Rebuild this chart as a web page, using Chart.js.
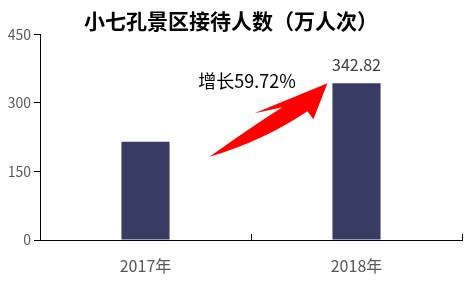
<!DOCTYPE html>
<html lang="zh">
<head>
  <meta charset="UTF-8">
  <title>小七孔景区接待人数</title>
  <script src="https://cdn.jsdelivr.net/npm/chart.js@4/dist/chart.umd.min.js"></script>
  <style>
    body { margin: 0; background: #fff; }
    .box { width: 476px; height: 282px; position: relative; }
  </style>
</head>
<body>
  <div class="box"><canvas id="plot"></canvas></div>
  <script>
    const years = ['2017年', '2018年'];
    const visitors = [214.64, 342.82];
    const yTicks = [0, 150, 300, 450];
    const growthText = '增长59.72%';

    const FONT = '"Noto Sans CJK SC", "Noto Sans", sans-serif';

    // value label above the 2018 bar, growth text and red arrow, upward x ticks
    const extras = {
      id: 'extras',
      afterDraw(chart) {
        const ctx = chart.ctx;
        const xs = chart.scales.x, ys = chart.scales.y;
        const bars = chart.getDatasetMeta(0).data;

        ctx.save();
        // x axis ticks pointing up at category boundaries
        ctx.strokeStyle = '#000';
        ctx.lineWidth = 1;
        const half = (xs.getPixelForValue(1) - xs.getPixelForValue(0)) / 2;
        years.forEach((_, i) => {
          const px = Math.round(xs.getPixelForValue(i) + half) + 0.5;
          ctx.beginPath();
          ctx.moveTo(px, xs.top);
          ctx.lineTo(px, xs.top - 6);
          ctx.stroke();
        });

        // value label on last bar
        const last = bars[bars.length - 1];
        ctx.fillStyle = '#404040';
        ctx.font = '16px ' + FONT;
        ctx.textAlign = 'center';
        ctx.textBaseline = 'bottom';
        ctx.fillText(visitors[visitors.length - 1].toFixed(2), last.x, last.y - 10);

        // growth text
        const mid = xs.getPixelForValue(0) + half;
        ctx.fillStyle = '#000';
        ctx.font = '18px ' + FONT;
        ctx.textBaseline = 'middle';
        ctx.fillText(growthText, mid - 4, ys.getPixelForValue(348));

        // arrow from first bar to second
        const tipX = last.x - last.width / 2 - 5;
        const tipY = ys.getPixelForValue(342.82);
        const tailX = xs.getPixelForValue(0) + 64;
        const tailY = ys.getPixelForValue(182);
        ctx.fillStyle = '#ff0000';
        ctx.beginPath();
        ctx.moveTo(tailX, tailY);
        ctx.quadraticCurveTo(tailX + 42, tailY - 30, tipX - 45, tipY + 24);
        ctx.lineTo(tipX - 73, tipY + 30);
        ctx.lineTo(tipX, tipY);
        ctx.lineTo(tipX - 14, tipY + 36);
        ctx.lineTo(tipX - 20, tipY + 28);
        ctx.quadraticCurveTo(tailX + 54, tailY - 16, tailX, tailY);
        ctx.closePath();
        ctx.fill();
        ctx.restore();
      }
    };

    new Chart(document.getElementById('plot'), {
      type: 'bar',
      data: {
        labels: years,
        datasets: [{
          data: visitors,
          backgroundColor: '#383b62',
          categoryPercentage: 1,
          barPercentage: 0.228
        }]
      },
      options: {
        responsive: true,
        maintainAspectRatio: false,
        animation: false,
        layout: { padding: { left: 0, right: 14, top: 0, bottom: 0 } },
        plugins: {
          legend: { display: false },
          tooltip: { enabled: false },
          title: {
            display: true,
            text: '小七孔景区接待人数（万人次）',
            color: '#000',
            font: { family: FONT, size: 21, weight: 'bold' },
            padding: { top: 8, bottom: 1 }
          }
        },
        scales: {
          x: {
            grid: { display: false },
            border: { display: true, color: '#000', width: 1 },
            ticks: { color: '#595959', font: { family: FONT, size: 16 }, padding: 8 },
            afterFit(scale) { scale.height = 42; }
          },
          y: {
            min: 0,
            max: 450,
            afterBuildTicks(scale) { scale.ticks = yTicks.map(v => ({ value: v })); },
            grid: { drawOnChartArea: false, drawTicks: true, tickLength: 6, color: '#000' },
            border: { display: true, color: '#000', width: 1 },
            ticks: { color: '#595959', font: { family: FONT, size: 14 }, padding: 3 },
            afterFit(scale) { scale.width = 40; }
          }
        }
      },
      plugins: [extras]
    });
  </script>
</body>
</html>
